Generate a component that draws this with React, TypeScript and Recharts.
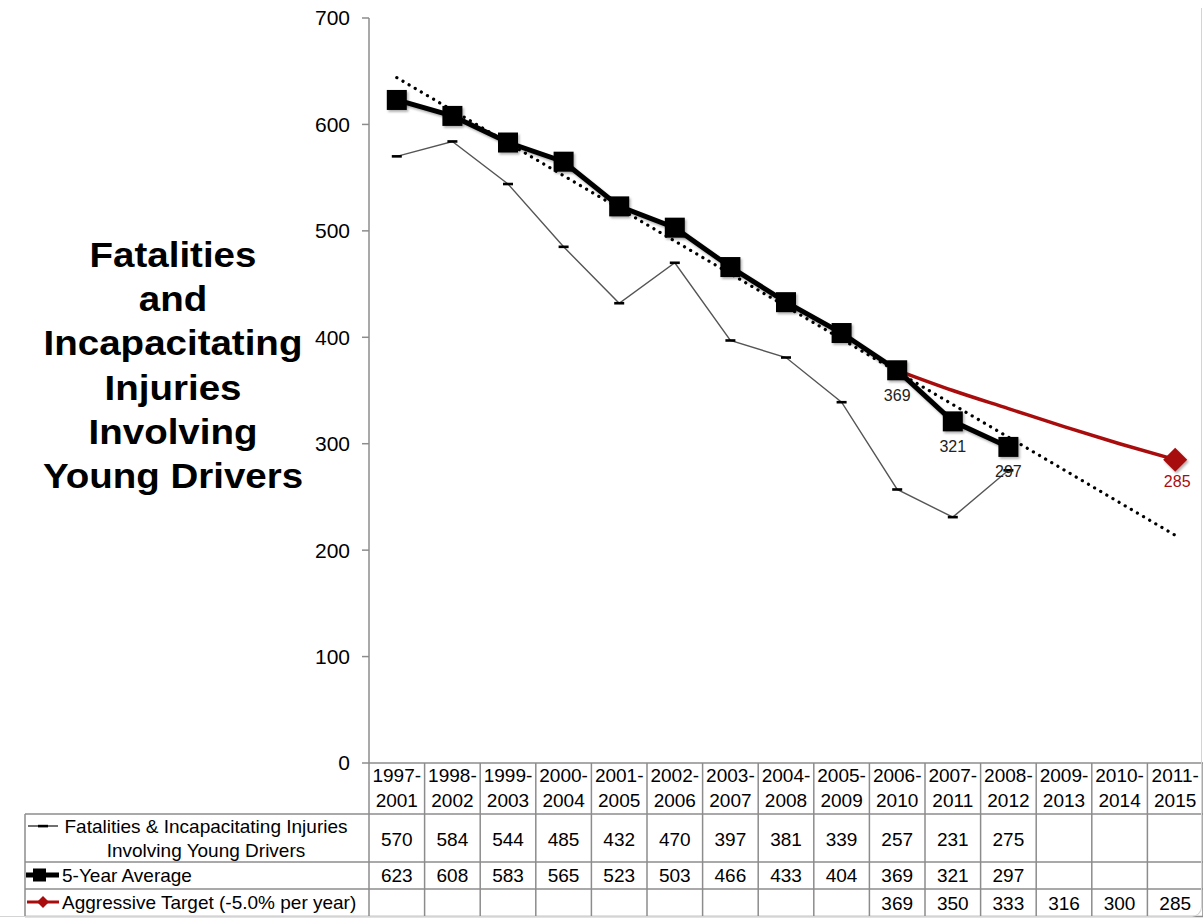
import { LineChart, Line, XAxis, YAxis, LabelList } from "recharts";

const periods = [
  "1997-2001",
  "1998-2002",
  "1999-2003",
  "2000-2004",
  "2001-2005",
  "2002-2006",
  "2003-2007",
  "2004-2008",
  "2005-2009",
  "2006-2010",
  "2007-2011",
  "2008-2012",
  "2009-2013",
  "2010-2014",
  "2011-2015",
];
const fatalities = [570, 584, 544, 485, 432, 470, 397, 381, 339, 257, 231, 275, null, null, null];
const fiveYearAvg = [623, 608, 583, 565, 523, 503, 466, 433, 404, 369, 321, 297, null, null, null];
const aggressiveTarget = [null, null, null, null, null, null, null, null, null, 369, 350, 333, 316, 300, 285];
// linear trend of the 5-year average, first and last period only
const trendEnds = [644, null, null, null, null, null, null, null, null, null, null, null, null, null, 214];
const yTicks = [0, 100, 200, 300, 400, 500, 600, 700];

const titleLines = ["Fatalities", "and", "Incapacitating", "Injuries", "Involving", "Young Drivers"];
const fatalName = ["Fatalities & Incapacitating Injuries", "Involving Young Drivers"];
const avgName = "5-Year Average";
const targetName = "Aggressive Target (-5.0% per year)";

const rows = periods.map((period, i) => ({
  period,
  fatal: fatalities[i],
  avg: fiveYearAvg[i],
  target: aggressiveTarget[i],
  trend: trendEnds[i],
}));

const FONT = '"Liberation Sans", Arial, sans-serif';
const GRID = "#8c8c8c";
const RED = "#a80c0c";
const COL_W = 55.6;
const AVG_LABEL_FROM = 9;

// data table geometry
const AXIS_Y = 763;
const ROW_LINES = [814, 862, 889, 916.5];
const HEAD_Y = [775, 800];
const CELL_Y = [839, 875, 903];

function LegendColumn({ right }: { right: number }) {
  const left = 25;
  return (
    <g>
      <line x1={left} x2={left} y1={ROW_LINES[0]} y2={ROW_LINES[3]} stroke={GRID} strokeWidth={1.5} />
      {ROW_LINES.map((y) => (
        <line key={y} x1={left} x2={right} y1={y} y2={y} stroke={GRID} strokeWidth={1.5} />
      ))}
      {/* fatalities key */}
      <line x1={28} x2={58} y1={826} y2={826} stroke="#222" strokeWidth={1.3} />
      <rect x={38} y={824.8} width={10} height={2.6} fill="#000" />
      <text x={206} y={826} textAnchor="middle" dominantBaseline="central">{fatalName[0]}</text>
      <text x={206} y={850} textAnchor="middle" dominantBaseline="central">{fatalName[1]}</text>
      {/* 5-year average key */}
      <line x1={26} x2={59} y1={875} y2={875} stroke="#000" strokeWidth={5} />
      <rect x={33} y={868.5} width={13} height={13} fill="#000" />
      <text x={62} y={875} dominantBaseline="central">{avgName}</text>
      {/* target key */}
      <line x1={27} x2={59} y1={902} y2={902} stroke={RED} strokeWidth={3} />
      <path d="M43 896 L49 902 L43 908 L37 902 Z" fill={RED} />
      <text x={62} y={902} dominantBaseline="central">{targetName}</text>
    </g>
  );
}

function TableColumn(props: any) {
  const { x, payload } = props;
  const i: number = payload.index;
  const left = x - COL_W / 2;
  const right = x + COL_W / 2;
  const [from, to] = String(payload.value).split("-");
  const cells = [fatalities[i], fiveYearAvg[i], aggressiveTarget[i]];
  return (
    <g fontFamily={FONT} fontSize={19} fill="#000">
      <line x1={right} x2={right} y1={AXIS_Y} y2={ROW_LINES[3]} stroke={GRID} strokeWidth={1.5} />
      {i === 0 && <line x1={left} x2={left} y1={AXIS_Y} y2={ROW_LINES[3]} stroke={GRID} strokeWidth={1.5} />}
      {ROW_LINES.map((y) => (
        <line key={y} x1={left} x2={right} y1={y} y2={y} stroke={GRID} strokeWidth={1.5} />
      ))}
      <text x={x} y={HEAD_Y[0]} textAnchor="middle" dominantBaseline="central">{from}-</text>
      <text x={x} y={HEAD_Y[1]} textAnchor="middle" dominantBaseline="central">{to}</text>
      {cells.map((v, r) =>
        v == null ? null : (
          <text key={r} x={x} y={CELL_Y[r]} textAnchor="middle" dominantBaseline="central">
            {v}
          </text>
        )
      )}
      {i === 0 && <LegendColumn right={left} />}
    </g>
  );
}

const squareDot = (p: any) =>
  p.value == null || p.cx == null ? (
    <g key={p.index} />
  ) : (
    <rect key={p.index} x={p.cx - 10} y={p.cy - 10} width={20} height={20} fill="#000" filter="url(#mshadow)" />
  );

const dashDot = (p: any) =>
  p.value == null || p.cx == null ? (
    <g key={p.index} />
  ) : (
    <rect key={p.index} x={p.cx - 5} y={p.cy - 1.3} width={10} height={2.6} fill="#000" />
  );

const diamondDot = (p: any) =>
  p.index !== aggressiveTarget.length - 1 || p.cx == null ? (
    <g key={p.index} />
  ) : (
    <path
      key={p.index}
      d={`M${p.cx} ${p.cy - 12} L${p.cx + 12} ${p.cy} L${p.cx} ${p.cy + 12} L${p.cx - 12} ${p.cy} Z`}
      fill={RED}
      filter="url(#mshadow)"
    />
  );

const avgLabel = (p: any) => {
  if (p.index < AVG_LABEL_FROM || p.value == null) return null;
  const x = p.viewBox?.x ?? p.x;
  const y = p.viewBox?.y ?? p.y;
  return (
    <text key={p.index} x={x} y={y + 25} textAnchor="middle" dominantBaseline="central" fontFamily={FONT} fontSize={16} fill="#222">
      {p.value}
    </text>
  );
};

const targetLabel = (p: any) => {
  if (p.index !== aggressiveTarget.length - 1 || p.value == null) return null;
  const x = p.viewBox?.x ?? p.x;
  const y = p.viewBox?.y ?? p.y;
  return (
    <text key={p.index} x={x + 2} y={y + 22} textAnchor="middle" dominantBaseline="central" fontFamily={FONT} fontSize={16} fill={RED}>
      {p.value}
    </text>
  );
};

export default function App() {
  return (
    <div style={{ position: "relative", width: 1203, height: 918, background: "#fff", overflow: "hidden" }}>
      <style>{`body{margin:0}`}</style>
      <LineChart width={1203} height={918} data={rows} margin={{ top: 18, right: 0, bottom: 0, left: 0 }}>
        <defs>
          <filter id="mshadow" x="-50%" y="-50%" width="200%" height="200%">
            <feDropShadow dx="1.5" dy="2" stdDeviation="1.2" floodColor="#000" floodOpacity="0.3" />
          </filter>
        </defs>
        <XAxis
          dataKey="period"
          height={155}
          padding={{ left: 27.8, right: 27.8 }}
          interval={0}
          tickSize={0}
          tickMargin={0}
          tickLine={false}
          axisLine={{ stroke: GRID, strokeWidth: 1.5 }}
          tick={<TableColumn />}
        />
        <YAxis
          width={369}
          domain={[0, 700]}
          ticks={yTicks}
          interval={0}
          tickSize={7}
          tickMargin={12}
          axisLine={{ stroke: GRID, strokeWidth: 1.5 }}
          tickLine={{ stroke: GRID, strokeWidth: 1.5 }}
          tick={{ fontSize: 21, fill: "#000", fontFamily: FONT }}
        />
        <Line
          dataKey="trend"
          connectNulls
          stroke="#000"
          strokeWidth={3.2}
          strokeDasharray="0.1 7"
          strokeLinecap="round"
          dot={false}
          activeDot={false}
          isAnimationActive={false}
        />
        <Line
          dataKey="fatal"
          stroke="#555"
          strokeWidth={1.4}
          dot={dashDot}
          activeDot={false}
          isAnimationActive={false}
        />
        <Line
          dataKey="avg"
          stroke="#000"
          strokeWidth={5}
          dot={squareDot}
          activeDot={false}
          isAnimationActive={false}
          style={{ filter: "url(#mshadow)" }}
        >
          <LabelList dataKey="avg" content={avgLabel} />
        </Line>
        <Line
          dataKey="target"
          type="monotone"
          stroke={RED}
          strokeWidth={3.5}
          dot={diamondDot}
          activeDot={false}
          isAnimationActive={false}
        >
          <LabelList dataKey="target" content={targetLabel} />
        </Line>
      </LineChart>
      <svg width={360} height={520} style={{ position: "absolute", left: 0, top: 0 }}>
        <g transform="translate(173 0) scale(1.1 1)" fontFamily={FONT} fontWeight="bold" fontSize={35} fill="#000">
          {titleLines.map((t, k) => (
            <text key={t} x={0} y={267 + k * 44.2} textAnchor="middle">
              {t}
            </text>
          ))}
        </g>
      </svg>
      <div
        style={{
          position: "absolute",
          left: -20,
          top: 8,
          width: 1221,
          height: 908,
          borderRight: "1.5px solid #d4d4d4",
          borderBottom: "1.5px solid #d4d4d4",
          borderBottomRightRadius: 10,
          pointerEvents: "none",
        }}
      />
    </div>
  );
}
